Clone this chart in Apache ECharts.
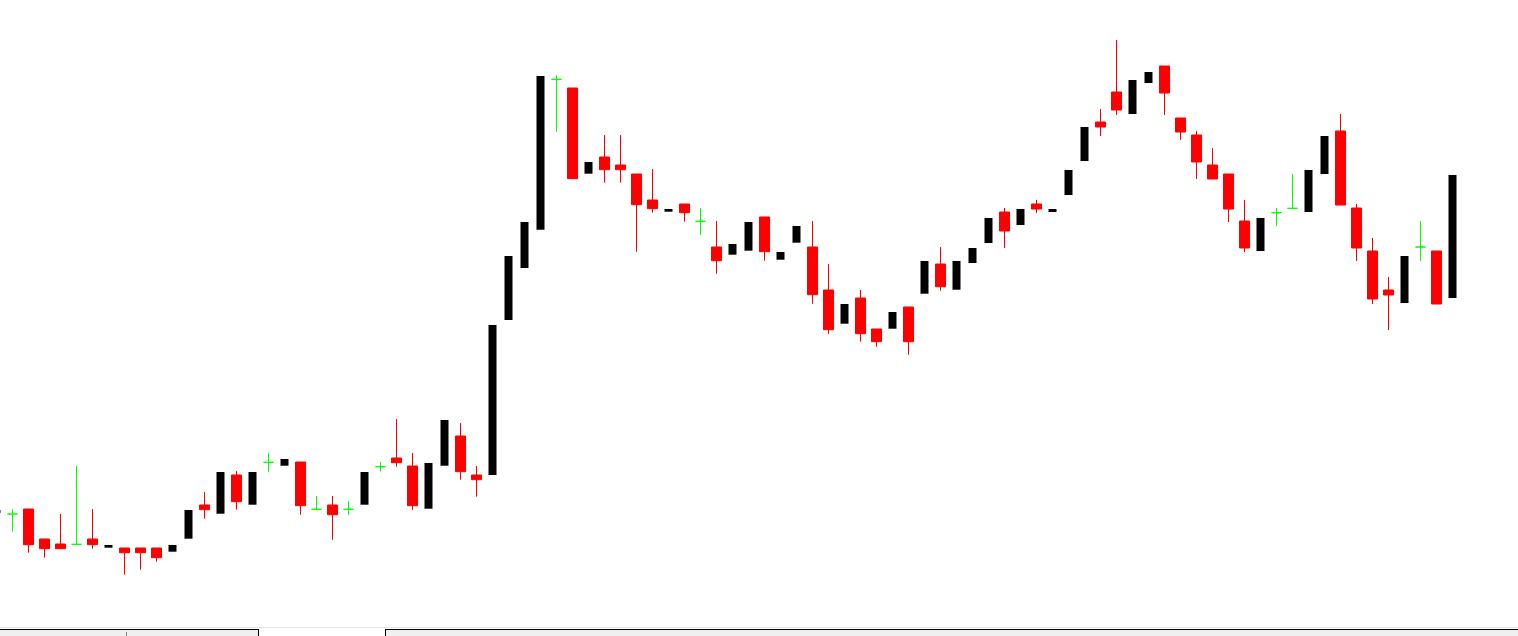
<!DOCTYPE html>
<html>
<head>
<meta charset="utf-8">
<style>
  html, body { margin: 0; padding: 0; background: #ffffff; overflow: hidden; width: 1518px; height: 636px; position: relative; }
  #chart { position: absolute; left: -16px; top: 0; width: 1534px; height: 636px; }
</style>
<script src="https://cdn.jsdelivr.net/npm/echarts@6/dist/echarts.min.js"></script>
</head>
<body>
<div id="chart"></div>
<script>
// Bar index labels (no visible axis in the reference)
const categories = Array.from({length: 92}, (_, i) => 'Bar ' + (i + 1));

// OHLC values (price units)
const opens = [
  115, 114, 119, 89, 84, 83.7, 89, 80.3, 80, 80,
  80, 76.3, 89.3, 123, 114.3, 153, 123.3, 165.7, 162.3, 166,
  118.7, 123, 118.7, 123.3, 161.3, 170, 162, 119.3, 162.3, 192,
  153, 153, 308, 360, 398.3, 548.7, 540, 454.3, 471, 463,
  454, 428, 416.3, 424, 406.7, 381, 373.3, 377.3, 411, 368.3,
  385.3, 381, 338, 304.3, 330, 299, 299.3, 321, 334.3, 364,
  338.3, 365, 385, 416, 403, 424, 416, 433, 467, 506,
  536, 514, 545, 562, 510, 493, 463, 454, 407, 377,
  415.3, 419.7, 416, 454, 497, 420, 377, 338, 325, 381,
  377, 330
];
const closes = [
  118, 114, 83.3, 79.3, 79.3, 83.7, 83.3, 83, 75.3, 75.3,
  70.3, 83, 118, 118.3, 156, 126.3, 156, 165.7, 169, 122.3,
  118.7, 113.3, 118.7, 156, 161.3, 165.3, 122.3, 165, 208, 156.3,
  148.3, 303, 372, 406, 552, 548.7, 449.3, 466, 458.3, 458.3,
  423.3, 419.3, 419, 415.3, 406.7, 367.3, 384, 406, 376.3, 376,
  402, 333.3, 298.3, 324, 294.3, 286.3, 316, 286.3, 367, 341.3,
  367, 380, 410, 397, 419, 419, 419, 458, 501, 501,
  518, 548, 556, 535, 496, 466, 449, 419, 380, 410,
  415.3, 419.7, 458, 492, 423, 380, 329, 333, 372, 381,
  324, 453
];
const lows = [
  115, 96.5, 75.3, 70.3, 79.3, 83.7, 79.3, 80.3, 53.3, 58.3,
  66.3, 76.3, 89.3, 109.3, 114.3, 118.3, 123.3, 156.3, 162.3, 113.3,
  118.7, 88.3, 113.3, 123.3, 156.3, 161.3, 118.3, 119.3, 162.3, 148.3,
  131.3, 153, 308, 360, 398.3, 496.3, 449.3, 454.3, 445.3, 445.3,
  376.3, 415.3, 416.3, 406.3, 393.3, 354.3, 373.3, 377.3, 367.3, 368.3,
  385.3, 324.3, 294.3, 304.3, 286.3, 281.3, 299.3, 273.3, 334.3, 337.3,
  338.3, 365, 385, 380, 403, 415, 416, 433, 467, 492,
  513, 514, 545, 513, 488, 449, 449, 406, 376, 377,
  402, 419.7, 416, 454, 423, 367, 324, 298, 325, 367,
  324, 330
];
const highs = [
  118, 119, 119, 89, 114, 162, 119, 83, 80, 80,
  80, 83, 118, 136, 156, 157, 156, 174.7, 169, 166,
  132, 132, 127, 156, 166, 209, 175, 165, 208, 205,
  162, 303, 372, 406, 552, 553, 540, 466, 493, 493,
  454, 459, 419, 424, 420, 407, 384, 406, 411, 376,
  402, 407, 364, 324, 338, 299, 316, 321, 367, 381,
  367, 380, 410, 420, 419, 428, 419, 458, 501, 519,
  588, 548, 556, 562, 510, 497, 480, 454, 428, 410,
  420, 454, 458, 492, 514, 424, 390, 351, 372, 407,
  377, 453
];

function pick(kind) {
  return categories.map((_, i) => {
    const o = opens[i], c = closes[i];
    const k = c > o ? 'up' : (c < o ? 'down' : 'doji');
    return k === kind ? [o, c, lows[i], highs[i]] : '-';
  });
}

const chart = echarts.init(document.getElementById('chart'), null, {renderer: 'canvas'});
const GREEN = '#00ff00', RED = '#ff0000', BLACK = '#000000';
const OFF = 16; // the chart box starts 16px left of the page edge

chart.setOption({
  backgroundColor: '#ffffff',
  animation: false,
  grid: { left: 4.5, right: 57.5, top: 0, bottom: 8, containLabel: false },
  xAxis: { type: 'category', data: categories, show: false, boundaryGap: true },
  yAxis: { type: 'value', min: 0, max: 628, show: false, splitLine: { show: false } },
  series: [
    {
      name: 'up', type: 'candlestick', data: pick('up'), barWidth: 9,
      itemStyle: { color: BLACK, color0: BLACK, borderColor: BLACK, borderColor0: BLACK, borderWidth: 0 }
    },
    {
      name: 'down', type: 'candlestick', data: pick('down'), barWidth: 10,
      itemStyle: { color: RED, color0: RED, borderColor: RED, borderColor0: RED, borderWidth: 1 }
    },
    {
      name: 'doji', type: 'candlestick', data: pick('doji'), barWidth: 10,
      itemStyle: { color: GREEN, color0: GREEN, borderColor: GREEN, borderColor0: GREEN, borderColorDoji: GREEN, borderWidth: 1 }
    }
  ],
  graphic: [
    { type: 'rect', silent: true, shape: { x: OFF + 0, y: 627, width: 1518, height: 1 }, style: { fill: '#e3e3e3' } },
    { type: 'rect', silent: true, shape: { x: OFF + 0, y: 630, width: 258, height: 6 }, style: { fill: '#f0f0f0' } },
    { type: 'rect', silent: true, shape: { x: OFF + 0, y: 629, width: 259, height: 1 }, style: { fill: '#000000' } },
    { type: 'rect', silent: true, shape: { x: OFF + 258, y: 629, width: 1, height: 7 }, style: { fill: '#000000' } },
    { type: 'rect', silent: true, shape: { x: OFF + 126, y: 632, width: 1, height: 4 }, style: { fill: '#808080' } },
    { type: 'rect', silent: true, shape: { x: OFF + 386, y: 630, width: 1132, height: 6 }, style: { fill: '#f0f0f0' } },
    { type: 'rect', silent: true, shape: { x: OFF + 385, y: 629, width: 1133, height: 1 }, style: { fill: '#000000' } },
    { type: 'rect', silent: true, shape: { x: OFF + 385, y: 629, width: 1, height: 7 }, style: { fill: '#000000' } }
  ]
});
</script>
</body>
</html>
